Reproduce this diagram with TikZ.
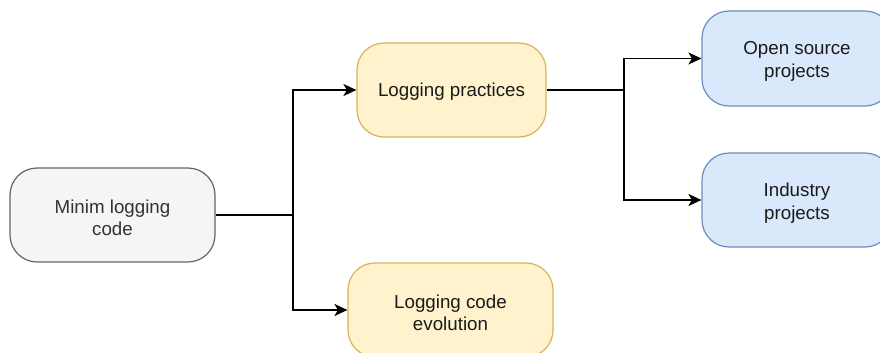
\documentclass[tikz,border=0pt]{standalone}
\usepackage{fontspec}
\setmainfont{Liberation Sans}
\usetikzlibrary{arrows.meta}
\definecolor{grayfill}{HTML}{F5F5F5}
\definecolor{graystroke}{HTML}{666666}
\definecolor{yelfill}{HTML}{FFF2CC}
\definecolor{yelstroke}{HTML}{D6B656}
\definecolor{bluefill}{HTML}{DAE8FC}
\definecolor{bluestroke}{HTML}{6C8EBF}
\definecolor{txtdark}{HTML}{1A1A1A}
\definecolor{txtgray}{HTML}{333333}
\tikzset{
  box/.style={rectangle, rounded corners=27pt, line width=1.2pt,
    minimum height=94pt, inner sep=0pt},
  graybox/.style={box, fill=grayfill, draw=graystroke},
  yelbox/.style={box, fill=yelfill, draw=yelstroke},
  bluebox/.style={box, fill=bluefill, draw=bluestroke},
  boxtext/.style={align=center, inner sep=0pt, text=txtdark,
    font=\fontsize{18.75}{22.5}\selectfont},
  link/.style={line width=1.5pt, draw=black},
  arrowlink/.style={link, -{Stealth[length=13pt,width=12pt,inset=3.5pt]}}
}
\begin{document}
\begin{tikzpicture}[x=1pt,y=-1pt]
  \useasboundingbox (0,0) rectangle (880,353);
  \clip (0,0) rectangle (880,353);
  \fill[white] (0,0) rectangle (880,353);

  % boxes
  \node[graybox, minimum width=205pt] (minim) at (112.5,215) {};
  \node[yelbox, minimum width=189pt] (prac) at (451.5,90) {};
  \node[yelbox, minimum width=205pt] (evo) at (450.5,310) {};
  \node[bluebox, minimum width=190pt, minimum height=95pt] (open) at (797,58.5) {};
  \node[bluebox, minimum width=190pt] (ind) at (797,200) {};

  % box labels, set a little below each box centre
  \node[boxtext, text=txtgray] (minim-t) at ([yshift=-3pt]minim.center) {Minim logging\\code};
  \node[boxtext] (prac-t) at ([yshift=-2pt]prac.center) {Logging practices};
  \node[boxtext] (evo-t) at ([yshift=-3pt]evo.center) {Logging code\\evolution};
  \node[boxtext] (open-t) at ([yshift=-3pt]open.center) {Open source\\projects};
  \node[boxtext] (ind-t) at ([yshift=-3pt]ind.center) {Industry\\projects};

  % branch points
  \coordinate (j1) at (293,215);
  \coordinate (j2) at (624,90);

  % connectors
  \draw[link] (minim.east) -- (j1);
  \draw[arrowlink] (j1) |- (prac.west);
  \draw[arrowlink] (j1) |- (evo.west);
  \draw[link] (prac.east) -- (j2);
  \draw[arrowlink] (j2) |- (open.west);
  \draw[arrowlink] (j2) |- (ind.west);
\end{tikzpicture}
\end{document}
